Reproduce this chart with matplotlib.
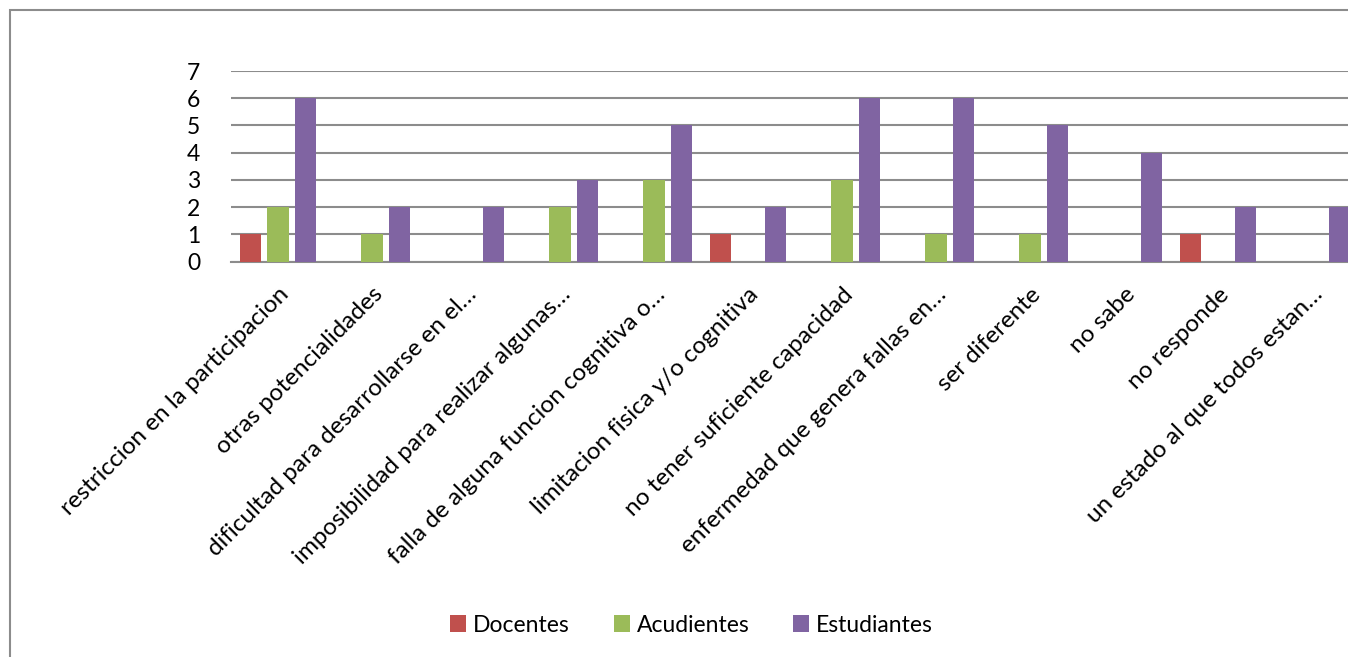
import numpy as np
import matplotlib.pyplot as plt
from matplotlib.patches import Rectangle

categorias = [
    "restriccion en la participacion",
    "otras potencialidades",
    "dificultad para desarrollarse en el…",
    "imposibilidad para realizar algunas…",
    "falla de alguna funcion cognitiva o…",
    "limitacion fisica y/o cognitiva",
    "no tener suficiente capacidad",
    "enfermedad que genera fallas en…",
    "ser diferente",
    "no sabe",
    "no responde",
    "un estado al que todos estan…",
]
docentes = [1, 0, 0, 0, 0, 1, 0, 0, 0, 0, 1, 0]
acudientes = [2, 1, 0, 2, 3, 0, 3, 1, 1, 0, 0, 0]
estudiantes = [6, 2, 2, 3, 5, 2, 6, 6, 5, 4, 2, 2]

series = [
    ("Docentes", docentes, "#C0504D"),
    ("Acudientes", acudientes, "#9BBB59"),
    ("Estudiantes", estudiantes, "#8064A2"),
]

plt.rcParams['font.family'] = ['Lato', 'DejaVu Sans']

W, H = 1348, 657
fig = plt.figure(figsize=(W / 100, H / 100), dpi=100)

# chart border (cut off on the right and bottom like the original)
fig.patches.append(Rectangle((10 / W, -0.1), 1.2, 1.1 - 10 / H,
                             transform=fig.transFigure, fill=False,
                             edgecolor="#8c8c8c", linewidth=1.5))

ax = fig.add_axes([231 / W, 1 - 261.5 / H, 1128 / W, (261.5 - 71) / H])

x = np.arange(len(categorias))
ancho = 0.23
paso = 0.293
for i, (nombre, valores, color) in enumerate(series):
    ax.bar(x + (i - 1) * paso, valores, ancho, color=color, label=nombre,
           zorder=3)

ax.set_xlim(-0.5, len(categorias) - 0.5)
ax.set_ylim(0, 7)
ax.set_yticks(range(8))
ax.yaxis.grid(True, color="#8c8c8c", linewidth=1.5, zorder=0)
ax.set_axisbelow(True)
for s in ["top", "right", "left"]:
    ax.spines[s].set_visible(False)
ax.spines["bottom"].set_color("#8c8c8c")
ax.spines["bottom"].set_linewidth(1.5)
ax.tick_params(axis="both", length=0)
ax.tick_params(axis="y", pad=22, labelsize=16.5)

ax.set_xticks(x)
ax.set_xticklabels(categorias, rotation=45, ha="right",
                   rotation_mode="anchor", fontsize=17.5)
ax.tick_params(axis="x", pad=16)

fig.legend(loc="center", bbox_to_anchor=(0.513, 1 - 625 / H), ncol=3,
           frameon=False, fontsize=16.5, handlelength=0.7, handleheight=0.7,
           handletextpad=0.3, columnspacing=1.9)

fig.savefig("out.png", dpi=100)
